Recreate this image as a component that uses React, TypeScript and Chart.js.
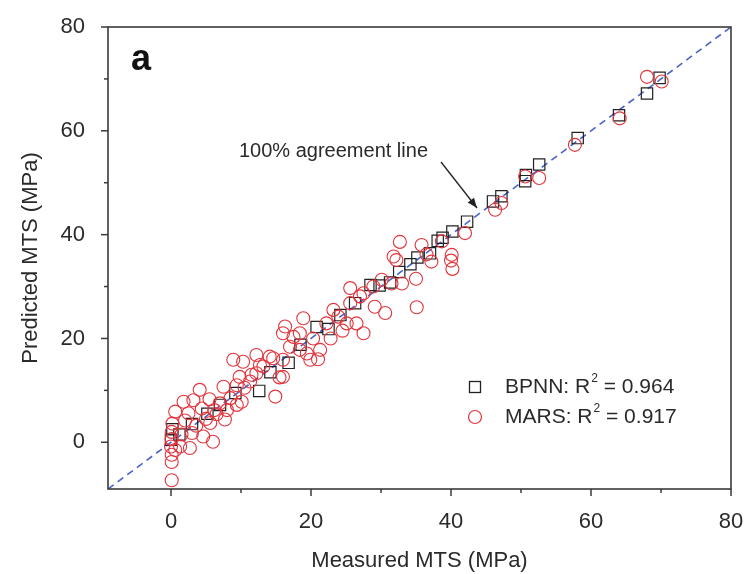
import React, { useEffect, useRef } from "react";
import { Chart, registerables } from "chart.js";

Chart.register(...registerables);

// ---------- data ----------
const bpnnPoints: [number, number][] = [
  [0.0, 0.5], [0.2, 2.5], [1.2, 1.5], [3.0, 3.5], [5.2, 5.5], [7.0, 7.2], [9.2, 9.5],
  [12.6, 9.9], [14.2, 13.5], [16.8, 15.3], [18.5, 18.8], [20.8, 22.2], [22.5, 21.8],
  [24.2, 24.5], [26.3, 26.8], [28.5, 30.3], [29.8, 30.2], [31.3, 30.8], [32.6, 32.8],
  [34.2, 34.3], [35.2, 35.6], [37.0, 36.4], [38.1, 38.8], [38.8, 39.4], [40.2, 40.6],
  [42.3, 42.5], [46.0, 46.4], [47.2, 47.4], [50.6, 50.3], [50.7, 51.5], [52.6, 53.5],
  [58.1, 58.6], [64.0, 63.0], [68.0, 67.2], [69.8, 70.2],
];

const marsPoints: [number, number][] = [
  [0.1, -7.3], [0.1, -3.8], [0.1, -2.4], [0.0, -0.8], [0.1, 0.6], [0.1, 2.0], [0.2, 3.6],
  [0.6, 5.9], [0.6, -1.5], [1.3, -0.8], [1.5, 1.5], [1.8, 7.8], [2.0, 4.2], [2.5, 5.6],
  [2.7, -1.1], [3.0, 1.8], [3.2, 8.1], [3.6, 3.2], [4.1, 10.1], [4.4, 6.5], [4.6, 1.1],
  [5.0, 4.5], [5.6, 3.7], [5.5, 8.3], [6.0, 0.1], [6.5, 5.4], [6.2, 6.2], [7.0, 7.5],
  [7.5, 10.7], [7.7, 4.4], [8.0, 6.2], [8.5, 8.5], [8.9, 15.9], [9.4, 11.0], [9.4, 7.2],
  [9.8, 12.6], [10.1, 7.8], [10.3, 15.5], [10.5, 10.5], [11.3, 11.7], [11.5, 13.0],
  [12.2, 16.8], [12.2, 13.3], [12.7, 14.9], [13.2, 14.6], [14.1, 16.5], [14.6, 16.2],
  [14.9, 8.8], [15.5, 12.5], [16.0, 15.9], [16.0, 12.6], [16.0, 21.0], [16.3, 22.3],
  [17.0, 18.4], [17.5, 20.3], [18.4, 21.0], [18.4, 17.8], [18.9, 23.9], [19.4, 17.1],
  [19.9, 15.9], [20.3, 20.0], [21.3, 17.8], [21.0, 16.0], [22.2, 22.9], [22.8, 20.0],
  [23.2, 25.5], [23.9, 24.2], [24.5, 21.5], [25.1, 22.9], [25.6, 26.8], [25.6, 29.7],
  [26.5, 22.9], [27.0, 28.1], [27.5, 28.7], [27.5, 21.0], [28.9, 30.0], [29.1, 26.1],
  [30.1, 31.3], [30.6, 24.9], [31.5, 30.6], [31.8, 35.8], [32.2, 35.1], [32.7, 38.6],
  [33.0, 30.6], [35.0, 31.5], [35.1, 26.0], [35.8, 38.0], [36.5, 36.2], [37.2, 34.8],
  [38.7, 38.7], [40.0, 35.0], [40.2, 33.4], [40.1, 36.1], [42.0, 40.3], [46.3, 44.8],
  [47.2, 46.1], [50.6, 51.2], [52.6, 50.9], [57.7, 57.3], [64.1, 62.4], [68.0, 70.4],
  [70.1, 69.5],
];

const agreementLine = [-9, 80];
const axisMin = -9;
const axisMax = 80;
const majorTicks = [0, 20, 40, 60, 80];
const minorTicks = [10, 30, 50, 70];
const seriesNames = ["BPNN", "MARS"];
const seriesR2 = ["0.964", "0.917"];
const xTitle = "Measured MTS (MPa)";
const yTitle = "Predicted MTS (MPa)";
const annotationText = "100% agreement line";
const panelLabel = "a";

// ---------- styles ----------
const FONT = "'Liberation Sans', Arial, sans-serif";
const TEXT = "#2a2a2a";
const RED = "#e3343c";
const DARK = "#222222";
const BLUE = "#4a62c8";

const decorPlugin = {
  id: "decor",
  afterDraw(chart: any) {
    const { ctx, chartArea: a, scales } = chart;
    const xs = scales.x;
    const ys = scales.y;
    ctx.save();
    // frame
    ctx.strokeStyle = "#3a3a3a";
    ctx.lineWidth = 1.6;
    ctx.strokeRect(a.left, a.top, a.right - a.left, a.bottom - a.top);
    // ticks
    ctx.lineWidth = 1.5;
    const all = [...majorTicks.map((v) => [v, 7]), ...minorTicks.map((v) => [v, 4])];
    for (const [v, len] of all) {
      const px = xs.getPixelForValue(v);
      ctx.beginPath();
      ctx.moveTo(px, a.bottom);
      ctx.lineTo(px, a.bottom + len);
      ctx.stroke();
      const py = ys.getPixelForValue(v);
      ctx.beginPath();
      ctx.moveTo(a.left, py);
      ctx.lineTo(a.left - len, py);
      ctx.stroke();
    }
    // panel label
    ctx.fillStyle = "#111";
    ctx.font = `bold 36px ${FONT}`;
    ctx.textAlign = "left";
    ctx.textBaseline = "alphabetic";
    ctx.fillText(panelLabel, 131, 70);

    // annotation text + arrow
    ctx.font = `20px ${FONT}`;
    ctx.fillStyle = TEXT;
    ctx.textAlign = "right";
    ctx.textBaseline = "middle";
    ctx.fillText(annotationText, 428, 151);
    const x0 = 441, y0 = 162, x1 = 477, y1 = 208;
    ctx.strokeStyle = DARK;
    ctx.lineWidth = 1.3;
    ctx.beginPath();
    ctx.moveTo(x0, y0);
    ctx.lineTo(x1, y1);
    ctx.stroke();
    const ang = Math.atan2(y1 - y0, x1 - x0);
    const hl = 10, hw = 4;
    ctx.fillStyle = DARK;
    ctx.beginPath();
    ctx.moveTo(x1, y1);
    ctx.lineTo(x1 - hl * Math.cos(ang) + hw * Math.sin(ang), y1 - hl * Math.sin(ang) - hw * Math.cos(ang));
    ctx.lineTo(x1 - hl * Math.cos(ang) - hw * Math.sin(ang), y1 - hl * Math.sin(ang) + hw * Math.cos(ang));
    ctx.closePath();
    ctx.fill();

    // legend
    const rows = [
      { y: 387, name: seriesNames[0], r2: seriesR2[0], kind: "rect" },
      { y: 417, name: seriesNames[1], r2: seriesR2[1], kind: "circle" },
    ];
    for (const r of rows) {
      if (r.kind === "rect") {
        ctx.strokeStyle = DARK;
        ctx.lineWidth = 1.3;
        ctx.strokeRect(475 - 5.5, r.y - 5.5, 11, 11);
      } else {
        ctx.strokeStyle = RED;
        ctx.lineWidth = 1.2;
        ctx.beginPath();
        ctx.arc(475, r.y, 6.5, 0, Math.PI * 2);
        ctx.stroke();
      }
      ctx.fillStyle = TEXT;
      ctx.textAlign = "left";
      ctx.textBaseline = "middle";
      ctx.font = `21px ${FONT}`;
      let tx = 505;
      const first = `${r.name}: R`;
      ctx.fillText(first, tx, r.y);
      tx += ctx.measureText(first).width;
      ctx.font = `12px ${FONT}`;
      ctx.fillText("2", tx + 1, r.y - 8);
      tx += ctx.measureText("2").width + 1;
      ctx.font = `21px ${FONT}`;
      ctx.fillText(` = ${r.r2}`, tx, r.y);
    }
    ctx.restore();
  },
};

export default function App() {
  const ref = useRef<HTMLCanvasElement>(null);
  useEffect(() => {
    const tickCb = (v: any) => (majorTicks.includes(Number(v)) ? String(v) : "");
    const chart = new Chart(ref.current as HTMLCanvasElement, {
      type: "scatter",
      data: {
        datasets: [
          {
            label: seriesNames[1],
            data: marsPoints.map(([x, y]) => ({ x, y })),
            pointStyle: "circle",
            pointRadius: 6.5,
            pointBorderColor: RED,
            pointBackgroundColor: "rgba(255,255,255,0)",
            pointBorderWidth: 1.1,
            order: 0,
          },
          {
            label: seriesNames[0],
            data: bpnnPoints.map(([x, y]) => ({ x, y })),
            pointStyle: "rect",
            pointRadius: 8,
            pointBorderColor: DARK,
            pointBackgroundColor: "rgba(255,255,255,0)",
            pointBorderWidth: 1.2,
            order: 1,
          },
          {
            type: "line",
            label: "agreement",
            data: agreementLine.map((v) => ({ x: v, y: v })),
            borderColor: BLUE,
            borderWidth: 1.6,
            borderDash: [7, 5],
            pointRadius: 0,
            fill: false,
            order: 2,
          } as any,
        ],
      },
      options: {
        responsive: false,
        animation: false,
        devicePixelRatio: 1,
        layout: { padding: { left: 0, top: 27, right: 17, bottom: 0 } },
        plugins: { legend: { display: false }, tooltip: { enabled: false } },
        scales: {
          x: {
            type: "linear",
            min: axisMin,
            max: axisMax,
            grid: { display: false },
            border: { display: false },
            ticks: {
              stepSize: 10,
              includeBounds: false,
              autoSkip: false,
              maxRotation: 0,
              padding: 12,
              color: TEXT,
              font: { family: FONT, size: 22 },
              callback: tickCb,
            },
            title: {
              display: true,
              text: xTitle,
              color: TEXT,
              font: { family: FONT, size: 22 },
              padding: { top: 0, bottom: 0 },
            },
            afterFit: (s: any) => {
              s.height = 85;
              s.paddingLeft = 0;
              s.paddingRight = 0;
            },
          },
          y: {
            type: "linear",
            min: axisMin,
            max: axisMax,
            grid: { display: false },
            border: { display: false },
            ticks: {
              stepSize: 10,
              includeBounds: false,
              autoSkip: false,
              padding: 15,
              color: TEXT,
              font: { family: FONT, size: 22 },
              callback: tickCb,
            },
            title: {
              display: true,
              text: yTitle,
              color: TEXT,
              font: { family: FONT, size: 22 },
              padding: { top: 18, bottom: 0 },
            },
            afterFit: (s: any) => {
              s.width = 108;
              s.paddingTop = 0;
              s.paddingBottom = 0;
            },
          },
        },
      },
      plugins: [decorPlugin],
    } as any);
    return () => chart.destroy();
  }, []);
  return (
    <div style={{ position: "fixed", left: 0, top: 0, width: 748, height: 574, background: "#fff" }}>
      <canvas ref={ref} width={748} height={574} style={{ display: "block" }} />
    </div>
  );
}
